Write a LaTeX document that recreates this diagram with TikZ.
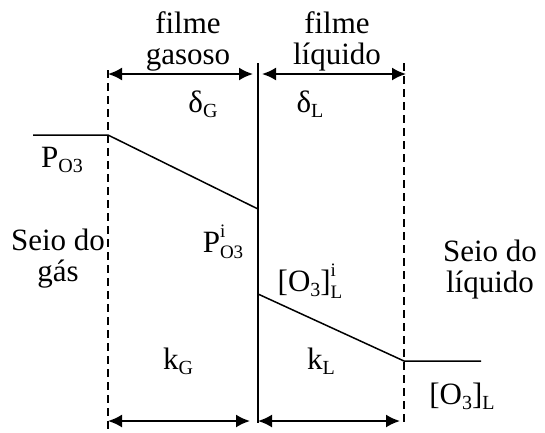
\documentclass[tikz,border=0pt]{standalone}
\usepackage{fontspec}
\setmainfont{Liberation Serif}
\usetikzlibrary{arrows.meta,positioning}

\newcommand{\idx}{\fontsize{20}{20}\selectfont}
\newcommand{\supsub}[2]{\rlap{\raisebox{15pt}{\fontsize{19}{19}\selectfont #1}}\raisebox{-6.5pt}{\fontsize{19}{19}\selectfont #2}}

\begin{document}
\begin{tikzpicture}[x=1pt,y=-1pt,>={Latex[length=14pt,width=13pt]},
  every node/.style={font=\fontsize{31}{31}\selectfont,inner sep=0pt},
  film/.style={dashed,line width=1.6pt,dash pattern=on 8pt off 5pt},
  iface/.style={line width=1.5pt},
  thick/.style={<->,line width=2pt},
  profile/.style={line width=1.5pt}]
\useasboundingbox (0,0) rectangle (545,432);
% boundaries
\coordinate (gtop) at (108,70);
\coordinate (gbot) at (108,432);
\coordinate (itop) at (258,63);
\coordinate (ibot) at (258,423);
\coordinate (ltop) at (404,63);
\coordinate (lbot) at (404,423);
\draw[film] (gtop) -- (gbot);
\draw[iface] (itop) -- (ibot);
\draw[film] (ltop) -- (lbot);
% film widths
\coordinate (dga) at (108,74);
\coordinate (dgb) at (253,74);
\coordinate (dla) at (262,74);
\coordinate (dlb) at (406,74);
\draw[thick] (dga) -- (dgb);
\draw[thick] (dla) -- (dlb);
\coordinate (kga) at (108,421);
\coordinate (kgb) at (250,421);
\coordinate (kla) at (258,421);
\coordinate (klb) at (400,421);
\draw[thick] (kga) -- (kgb);
\draw[thick] (kla) -- (klb);
% concentration profile
\coordinate (pbulk) at (33,135);
\coordinate (pedge) at (108,135);
\coordinate (pint) at (258,209);
\coordinate (cint) at (258,294);
\coordinate (cedge) at (404,361);
\coordinate (cbulk) at (481,361);
\draw[profile] (pbulk) -- (pedge) -- (pint);
\draw[profile] (cint) -- (cedge) -- (cbulk);
% labels
\node[align=center] (fgas) at (188,41) {filme\\gasoso};
\node[align=center] (fliq) at (337,41) {filme\\líquido};
\node (deltaG) at (203,104) {δ\raisebox{-5pt}{\idx G}};
\node (deltaL) at (310,104) {δ\raisebox{-5pt}{\idx L}};
\node (pbulklab) at (62,160) {P\raisebox{-5pt}{\idx O3}};
\node (pintlab) at (223,242) {P\supsub{i}{O3}};
\node[align=center] (seiogas) at (58,259) {Seio do\\gás};
\node (cintlab) at (310,281) {[O\raisebox{-5pt}{\idx 3}]\supsub{i}{L}};
\node[align=center] (seioliq) at (490,270) {Seio do\\líquido};
\node (kG) at (178,361) {k\raisebox{-5pt}{\idx G}};
\node (kL) at (321,361) {k\raisebox{-5pt}{\idx L}};
\node (cbulklab) at (462,396) {[O\raisebox{-5pt}{\idx 3}]\raisebox{-5pt}{\idx L}};
\end{tikzpicture}
\end{document}
